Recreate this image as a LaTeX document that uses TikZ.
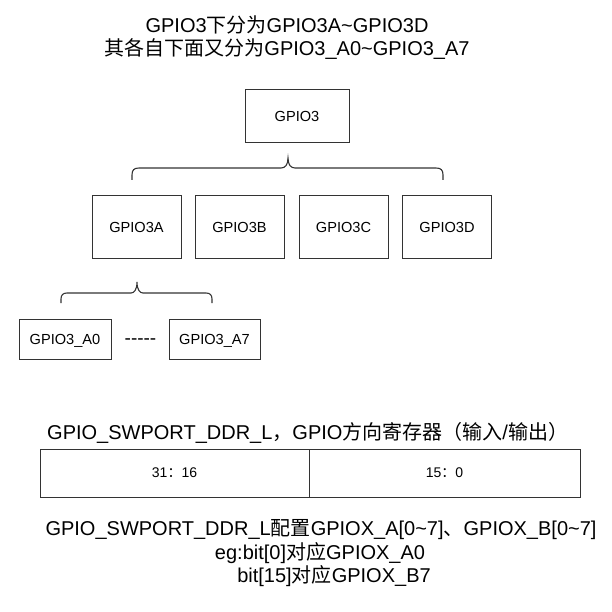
\documentclass[tikz,border=0pt]{standalone}
\usepackage{fontspec}
\setmainfont{Liberation Sans}
\newfontfamily\zhfont{Noto Sans CJK SC}
\newcommand\zh[1]{{\zhfont #1}}
\definecolor{edge}{HTML}{333333}
\begin{document}
\begin{tikzpicture}[x=1pt,y=-1pt,
  box/.style={draw=edge, line width=1pt, inner sep=0pt, text depth=0pt, font=\fontsize{14.6}{17}\selectfont},
  cell/.style={draw=edge, line width=1pt, inner sep=0pt, minimum height=48pt, font=\fontsize{14}{17}\selectfont},
  brace/.style={draw=edge, line width=1.1pt},
  big/.style={font=\fontsize{20}{24}\selectfont, inner sep=0pt, anchor=base}]
\useasboundingbox (0,0) rectangle (611,612);
% title
\node[big] (t1) at (287,33) {GPIO3\zh{下分为}GPIO3A\textasciitilde GPIO3D};
\node[big] (t2) at (287,56) {\zh{其各自下面又分为}GPIO3\_A0\textasciitilde GPIO3\_A7};
% tree
\node[box, minimum width=104pt, minimum height=53pt] (g3) at (297,116.5) {GPIO3};
\node[box, minimum width=89pt, minimum height=62pt] (g3a) at (136.5,227) {GPIO3A};
\node[box, minimum width=89pt, minimum height=62pt] (g3b) at (239.5,227) {GPIO3B};
\node[box, minimum width=89pt, minimum height=62pt] (g3c) at (343.5,227) {GPIO3C};
\node[box, minimum width=89pt, minimum height=62pt] (g3d) at (447,227) {GPIO3D};
\node[box, minimum width=92pt, minimum height=40pt] (a0) at (65,339) {GPIO3\_A0};
\node[box, minimum width=91pt, minimum height=40pt] (a7) at (214.5,339) {GPIO3\_A7};
\node[big, font=\fontsize{19}{23}\selectfont] (dots) at (140.5,344) {-{}-{}-{}-{}-};
% braces
\draw[brace] (132,180) -- (132,175) .. controls (132,170) and (134,168) .. (139,168) -- (281,168)
  .. controls (285,168) and (288,165) .. (288,158) .. controls (288,165) and (291,168) .. (295,168)
  -- (436,168) .. controls (441,168) and (443,170) .. (443,175) -- (443,180);
\draw[brace] (61,303) -- (61,299) .. controls (61,295) and (63,293) .. (67,293) -- (131,293)
  .. controls (134,293) and (137,290) .. (137,282) .. controls (137,290) and (140,293) .. (143,293)
  -- (206,293) .. controls (210,293) and (212,295) .. (212,299) -- (212,303);
% register
\node[big, anchor=base west] (regt) at (47,439) {GPIO\_SWPORT\_DDR\_L\zh{，}GPIO\zh{方向寄存器（输入}/\zh{输出）}};
\node[cell, minimum width=269pt] (hi) at (174.5,473) {31\zh{：}16};
\node[cell, minimum width=271pt] (lo) at (444.5,473) {15\zh{：}0};
% description
\node[big] (d1) at (321,535) {GPIO\_SWPORT\_DDR\_L\zh{配置}GPIOX\_A[0\textasciitilde 7]\zh{、}GPIOX\_B[0\textasciitilde 7]};
\node[big] (d2) at (320,559) {eg:bit[0]\zh{对应}GPIOX\_A0};
\node[big] (d3) at (334,582) {bit[15]\zh{对应}GPIOX\_B7};
\end{tikzpicture}
\end{document}
